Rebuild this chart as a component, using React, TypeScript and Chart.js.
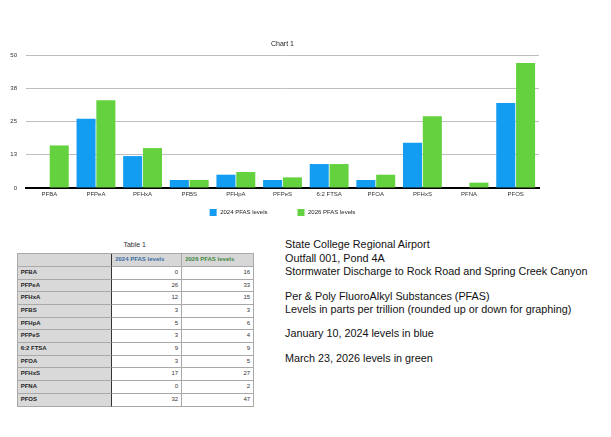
import React, { useEffect, useRef } from 'react';
import { Chart, registerables } from 'chart.js';

Chart.register(...registerables);

// PFAS compounds measured at the outfall
const categories = ['PFBA', 'PFPeA', 'PFHxA', 'PFBS', 'PFHpA', 'PFPeS', '6:2 FTSA', 'PFOA', 'PFHxS', 'PFNA', 'PFOS'];
// Levels in parts per trillion
const levels2024 = [0, 26, 12, 3, 5, 3, 9, 3, 17, 0, 32];
const levels2026 = [16, 33, 15, 3, 6, 4, 9, 5, 27, 2, 47];
const seriesNames = ['2024 PFAS levels', '2026 PFAS levels'];
const seriesColors = ['#129DF2', '#63D23E'];
const headerColors = ['#3B6CA3', '#3F883F'];

// Value axis: gridlines every 12.5 with rounded labels
const yTickValues = [0, 12.5, 25, 37.5, 50];
const yTickLabels = ['0', '13', '25', '38', '50'];

const chartTitle = 'Chart 1';
const tableTitle = 'Table 1';

const notes: string[][] = [
  ['State College Regional Airport', 'Outfall 001, Pond 4A', 'Stormwater Discharge to Rock Road and Spring Creek Canyon'],
  ['Per & Poly FluoroAlkyl Substances (PFAS)', 'Levels in parts per trillion (rounded up or down for graphing)'],
  ['January 10, 2024 levels in blue'],
  ['March 23, 2026 levels in green'],
];

const FONT = '"Liberation Sans", Arial, Helvetica, sans-serif';

// Draws the chart caption and the legend centred under the plot
const captionPlugin = {
  id: 'captionAndLegend',
  afterDraw(chart: any) {
    const { ctx, chartArea } = chart;
    const cx = (chartArea.left + chartArea.right) / 2;
    ctx.save();
    ctx.fillStyle = '#222';
    ctx.font = `7px ${FONT}`;
    ctx.textAlign = 'center';
    ctx.textBaseline = 'middle';
    ctx.fillText(chartTitle, cx, 44);

    ctx.font = `6px ${FONT}`;
    ctx.textAlign = 'left';
    const box = 7;
    const gap = 3.5;
    const spacing = 30;
    const items = chart.data.datasets.map((ds: any) => ({
      label: ds.label as string,
      color: ds.backgroundColor as string,
      w: box + gap + ctx.measureText(ds.label).width,
    }));
    const total = items.reduce((s: number, it: any) => s + it.w, 0) + spacing * (items.length - 1);
    let x = cx - total / 2;
    const y = chartArea.bottom + 24.5;
    for (const it of items) {
      ctx.fillStyle = it.color;
      ctx.fillRect(x, y - box / 2, box, box);
      ctx.fillStyle = '#222';
      ctx.fillText(it.label, x + box + gap, y);
      x += it.w + spacing;
    }
    ctx.restore();
  },
};

function BarChart() {
  const ref = useRef<HTMLCanvasElement>(null);
  useEffect(() => {
    if (!ref.current) return;
    const chart = new Chart(ref.current, {
      type: 'bar',
      data: {
        labels: categories,
        datasets: [
          { label: seriesNames[0], data: levels2024, backgroundColor: seriesColors[0], borderWidth: 0 },
          { label: seriesNames[1], data: levels2026, backgroundColor: seriesColors[1], borderWidth: 0 },
        ],
      },
      options: {
        responsive: false,
        animation: false,
        devicePixelRatio: 1,
        layout: { padding: { top: 55, left: 0, right: 72, bottom: 20 } },
        plugins: {
          legend: { display: false },
          title: { display: false },
          tooltip: { enabled: false },
        },
        datasets: { bar: { categoryPercentage: 0.85, barPercentage: 0.96 } },
        scales: {
          x: {
            grid: { display: false, drawTicks: false },
            border: { display: true, color: '#000', width: 2 },
            ticks: { font: { size: 6, family: FONT }, color: '#333', padding: 3, maxRotation: 0, autoSkip: false },
            afterFit: (axis: any) => { axis.height = 20; },
          },
          y: {
            min: 0,
            max: 50,
            afterBuildTicks: (axis: any) => { axis.ticks = yTickValues.map((v) => ({ value: v })); },
            grid: {
              drawTicks: false,
              color: (c: any) => (c.tick && c.tick.value === 0 ? 'rgba(0,0,0,0)' : '#BEBEBE'),
              lineWidth: 1,
            },
            border: { display: false },
            ticks: {
              font: { size: 6, family: FONT },
              color: '#333',
              padding: 9,
              callback: (_v: any, i: number) => yTickLabels[i],
            },
            afterFit: (axis: any) => { axis.width = 26; },
          },
        },
      },
      plugins: [captionPlugin],
    });
    return () => chart.destroy();
  }, []);
  return <canvas ref={ref} width={611} height={228} style={{ display: 'block', position: 'absolute', left: 0, top: 0 }} />;
}

function DataTable() {
  const cols = '94px 70px 72px';
  const rowH = 12.7;
  const line = '1px solid #A9A9A9';
  const base: React.CSSProperties = {
    fontFamily: FONT,
    fontSize: 6,
    lineHeight: `${rowH - 1}px`,
    height: rowH - 1,
    borderRight: line,
    borderBottom: line,
    whiteSpace: 'nowrap',
    overflow: 'hidden',
    color: '#333',
  };
  const labelCell: React.CSSProperties = {
    ...base,
    background: '#D9D9D9',
    fontWeight: 'bold',
    paddingLeft: 3,
    borderRight: '1px solid #333',
    color: '#222',
  };
  const numCell: React.CSSProperties = { ...base, background: '#fff', textAlign: 'right', paddingRight: 2.5 };
  const headCell: React.CSSProperties = { ...base, background: '#D7D7D7', fontWeight: 'bold', paddingLeft: 3.5 };

  const cells: React.ReactNode[] = [];
  cells.push(<div key="h0" style={{ ...headCell, borderRight: '1px solid #333' }} />);
  seriesNames.forEach((n, i) =>
    cells.push(
      <div key={`h${i + 1}`} style={{ ...headCell, color: headerColors[i] }}>{n}</div>
    )
  );
  categories.forEach((c, r) => {
    cells.push(<div key={`l${r}`} style={labelCell}>{c}</div>);
    cells.push(<div key={`a${r}`} style={numCell}>{levels2024[r].toFixed(0)}</div>);
    cells.push(<div key={`b${r}`} style={numCell}>{levels2026[r].toFixed(0)}</div>);
  });

  return (
    <>
      <div
        style={{
          position: 'absolute',
          left: 16.7,
          width: 236,
          top: 239.5,
          textAlign: 'center',
          fontFamily: FONT,
          fontSize: 7,
          lineHeight: '9px',
          color: '#333',
        }}
      >
        {tableTitle}
      </div>
      <div
        style={{
          position: 'absolute',
          left: 16.7,
          top: 253.3,
          display: 'grid',
          gridTemplateColumns: cols,
          gridAutoRows: `${rowH}px`,
          borderTop: line,
          borderLeft: line,
          boxSizing: 'border-box',
        }}
      >
        {cells.map((c) => c)}
      </div>
    </>
  );
}

function Notes() {
  return (
    <div
      style={{
        position: 'absolute',
        left: 285,
        top: 238.4,
        fontFamily: FONT,
        fontSize: 10.8,
        lineHeight: '13.3px',
        color: '#111',
        whiteSpace: 'nowrap',
      }}
    >
      {notes.map((p, i) => (
        <div key={i} style={{ marginTop: i === 0 ? 0 : 11.3 }}>
          {p.map((l, j) => (
            <div key={j}>{l}</div>
          ))}
        </div>
      ))}
    </div>
  );
}

export default function App() {
  return (
    <div style={{ position: 'absolute', left: 0, top: 0, width: 611, height: 437, background: '#fff', overflow: 'hidden' }}>
      <BarChart />
      <DataTable />
      <Notes />
    </div>
  );
}
